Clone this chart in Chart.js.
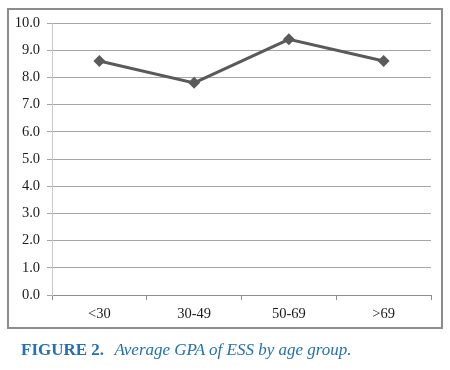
<!DOCTYPE html>
<html>
<head>
<meta charset="utf-8">
<script src="https://cdn.jsdelivr.net/npm/chart.js@4/dist/chart.umd.min.js"></script>
<style>
    body { margin: 0; background: #fff; width: 450px; height: 370px; position: relative; overflow: hidden; }
    #wrap { position: absolute; left: 0; top: 0; width: 450px; height: 335px; }
    #frame { position: absolute; left: 7px; top: 8px; width: 432px; height: 317px; border: 2px solid #8c8c8c; pointer-events: none; }
    #caption { position: absolute; left: 21px; top: 340px; font-family: "Liberation Serif", serif; font-size: 17px; color: #2470b0; white-space: nowrap; }
    #caption b { font-weight: bold; }
    #caption i { margin-left: 6px; }
</style>
</head>
<body>
<div id="wrap"><canvas id="gpaChart" width="450" height="335"></canvas></div>
<div id="frame"></div>
<div id="caption"><b>FIGURE 2.</b> <i>Average GPA of ESS by age group.</i></div>
<script>
var ageGroups = ['<30', '30-49', '50-69', '>69'];
var avgGpa = [8.6, 7.8, 9.4, 8.6];
var yTicks = [0, 1, 2, 3, 4, 5, 6, 7, 8, 9, 10];

var ctx = document.getElementById('gpaChart').getContext('2d');
new Chart(ctx, {
    type: 'line',
    data: {
        labels: ageGroups,
        datasets: [
            {
                label: 'Average GPA',
                data: avgGpa,
                borderColor: '#5a5a5a',
                backgroundColor: '#5a5a5a',
                borderWidth: 3,
                pointStyle: 'rectRot',
                pointRadius: 6,
                pointBorderWidth: 0,
                fill: false,
                tension: 0
            }
        ]
    },
    options: {
        responsive: false,
        animation: false,
        layout: { padding: { left: 0, right: 19, top: 23, bottom: 0 } },
        plugins: { legend: { display: false }, tooltip: { enabled: false } },
        scales: {
            x: {
                offset: true,
                grid: { offset: true, drawOnChartArea: false, tickLength: 5, color: '#8c8c8c' },
                border: { color: '#8c8c8c', width: 1 },
                ticks: { color: '#1a1a1a', font: { family: 'Liberation Serif', size: 14.5 }, padding: 5, maxRotation: 0 },
                afterFit: function (axis) { axis.height = 40; }
            },
            y: {
                min: 0,
                max: 10,
                afterBuildTicks: function (axis) { axis.ticks = yTicks.map(function (v) { return { value: v }; }); },
                grid: { color: '#a6a6a6', tickLength: 5 },
                border: { color: '#c8c8c8', width: 1 },
                ticks: {
                    color: '#1a1a1a',
                    font: { family: 'Liberation Serif', size: 14.5 },
                    padding: 7,
                    callback: function (v) { return Number(v).toFixed(1); }
                },
                afterFit: function (axis) { axis.width = 52; }
            }
        }
    }
});
</script>
</body>
</html>
